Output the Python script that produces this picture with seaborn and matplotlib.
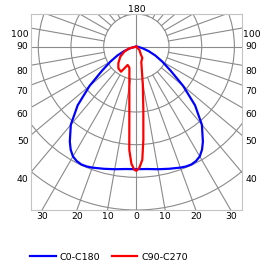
import numpy as np
import pandas as pd
import seaborn as sns
import matplotlib.pyplot as plt
from matplotlib.patches import Circle

# C0-C180: symmetric curve, angle from nadir (deg) -> intensity
blue_angles = [0, 5, 10, 15, 20, 22.5, 25, 27.5, 30, 32.5, 35, 40, 45, 50, 55, 60, 65, 70, 75, 80, 85, 90]
blue_values = [375, 376, 381, 387, 394, 397, 398, 395, 388, 374, 355, 312, 254, 187, 128, 92, 64, 40, 21, 9, 3, 0]

# C90-C270: left half (C270) then right half (C90), walked from the centre round
red_angles = [-90, -77, -67.4, -58, -47.3, -39.8, -31.5, -29, -25.4, -18.2, -11.9, -6.3, -3.9, -2.4, -0.9, 0,
              1.4, 3, 4.3, 6.3, 9.6, 13.3, 18, 28, 29.5, 42, 90]
red_values = [0, 22, 40, 58, 75, 86, 90, 76, 62, 68, 104, 195, 317, 359, 377, 380,
              371, 347, 286, 195, 119, 73, 49, 39, 29, 14, 0]

rings = [100, 200, 300, 400, 500]
ray_angles = [10, 20, 30, 40, 50, 60, 70, 80, 100, 110, 120, 130, 140, 150, 160, 170]
side_labels = [100, 90, 80, 70, 60, 50, 40]
bottom_labels = [-30, -20, -10, 0, 10, 20, 30]

half_w = 323.3
grid_col = '#8a8a8a'
fs = 6.7


def to_xy(ang, val):
    t = np.radians(np.asarray(ang, dtype=float))
    v = np.asarray(val, dtype=float)
    return v * np.sin(t), -v * np.cos(t)


b_ang = [-a for a in blue_angles[::-1]] + blue_angles[1:]
b_val = blue_values[::-1] + blue_values[1:]
bx, by = to_xy(b_ang, b_val)
rx, ry = to_xy(red_angles, red_values)

df = pd.concat([
    pd.DataFrame({'x': bx, 'y': by, 'serie': 'C0-C180'}),
    pd.DataFrame({'x': rx, 'y': ry, 'serie': 'C90-C270'}),
], ignore_index=True)

fig = plt.figure(figsize=(2.75, 2.66), dpi=100)
ax = fig.add_axes([30.7 / 275, 56 / 266, 211.3 / 275, 196 / 266])

# griglia polare
for r in rings:
    ax.add_patch(Circle((0, 0), r, fill=False, ec=grid_col, lw=0.8))
for a in ray_angles:
    for s in (-1, 1):
        gx, gy = to_xy([s * a, s * a], [rings[0], 900])
        ax.plot(gx, gy, color=grid_col, lw=0.8)
ax.axvline(0, color=grid_col, lw=0.8)
ax.axhline(0, color=grid_col, lw=0.8)

sns.lineplot(data=df, x='x', y='y', hue='serie', sort=False, estimator=None,
             palette={'C0-C180': '#0000ff', 'C90-C270': '#ff0000'}, linewidth=1.6, ax=ax)

ax.set_xlim(-half_w, half_w)
ax.set_ylim(-500, 100)
ax.set_xticks([])
ax.set_yticks([])
ax.set_xlabel('')
ax.set_ylabel('')
for sp in ax.spines.values():
    sp.set_color('#c4c4c4')
    sp.set_linewidth(0.8)

# etichette angoli
for a in side_labels:
    yi = -half_w * np.cos(np.radians(a)) / np.sin(np.radians(a))
    if a != 90:
        yi -= 20
    ax.text(-half_w - 7, yi, str(a), ha='right', va='center', fontsize=fs, clip_on=False)
    ax.text(half_w + 29, yi, str(a), ha='center', va='center', fontsize=fs, clip_on=False)
for a in bottom_labels:
    ax.text(500 * np.tan(np.radians(a)), -520, str(abs(a)), ha='center', va='center',
            fontsize=fs, clip_on=False)
ax.text(0, 114, '180', ha='center', va='center', fontsize=fs, clip_on=False)

handles, labels = ax.get_legend_handles_labels()
ax.get_legend().remove()
fig.legend(handles, labels, loc='center left', bbox_to_anchor=(30 / 275, 9 / 266), ncol=2,
           frameon=False, fontsize=6.8, handlelength=2.7, handletextpad=0.45,
           columnspacing=1.2, borderpad=0, borderaxespad=0)

fig.savefig('out.png', dpi=100)
